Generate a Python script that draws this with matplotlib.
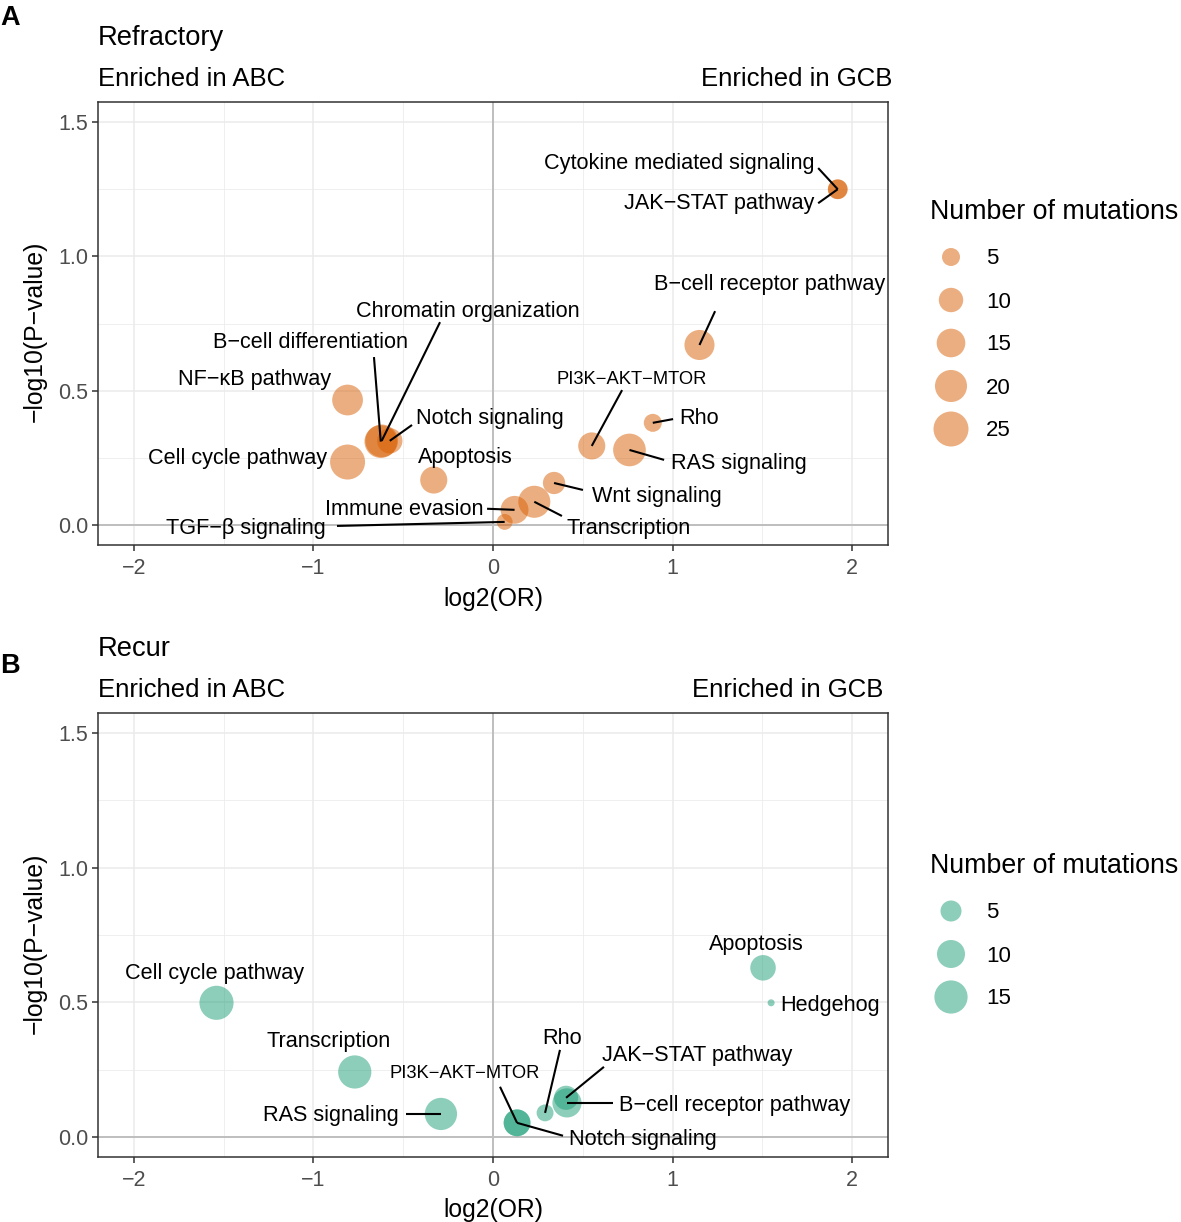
import numpy as np
import matplotlib
matplotlib.use("Agg")
import matplotlib.pyplot as plt
from matplotlib.ticker import FormatStrFormatter
from matplotlib.transforms import offset_copy

plt.rcParams['font.family'] = ['Liberation Sans', 'DejaVu Sans']

W, H, DPI = 1181, 1222, 100

# ---------------- data: panel A (Refractory) ----------------
refr_pathway = ["Cytokine mediated signaling", "JAK−STAT pathway", "B−cell receptor pathway",
                "Chromatin organization", "B−cell differentiation", "NF−κB pathway", "Notch signaling",
                "PI3K−AKT−MTOR", "Rho", "Cell cycle pathway", "Apoptosis", "RAS signaling",
                "Wnt signaling", "Immune evasion", "Transcription", "TGF−β signaling"]
refr_log2or = [1.92, 1.92, 1.15, -0.62, -0.625, -0.81, -0.575, 0.55, 0.89, -0.81, -0.33, 0.76,
               0.34, 0.12, 0.23, 0.065]
refr_logp = [1.25, 1.25, 0.67, 0.313, 0.31, 0.465, 0.313, 0.294, 0.38, 0.234, 0.167, 0.279,
             0.156, 0.056, 0.086, 0.011]
refr_n = [6, 6, 17, 21, 21, 18, 11, 13, 5, 25, 13, 21, 8, 14, 20, 4]
refr_breaks = [5, 10, 15, 20, 25]

# ---------------- data: panel B (Recur) ----------------
recur_pathway = ["Cell cycle pathway", "Transcription", "RAS signaling", "PI3K−AKT−MTOR",
                 "Notch signaling", "Rho", "JAK−STAT pathway", "B−cell receptor pathway",
                 "Apoptosis", "Hedgehog"]
recur_log2or = [-1.54, -0.77, -0.29, 0.134, 0.134, 0.29, 0.407, 0.412, 1.504, 1.549]
recur_logp = [0.498, 0.241, 0.085, 0.052, 0.052, 0.089, 0.145, 0.126, 0.628, 0.498]
recur_n = [16, 15, 14, 9, 9, 3, 7, 11, 8, 1]
recur_breaks = [5, 10, 15]

# ---------------- label layout (text x, text y, segment end x, segment end y) ----------------
layout_A = {
    "Cytokine mediated signaling": (1.039, 1.355, 1.811, 1.329),
    "JAK−STAT pathway": (1.262, 1.206, 1.811, 1.198),
    "B−cell receptor pathway": (1.538, 0.904, 1.237, 0.796),
    "Chromatin organization": (-0.142, 0.804, -0.295, 0.755),
    "B−cell differentiation": (-1.019, 0.688, -0.663, 0.625),
    "NF−κB pathway": (-1.329, 0.551, None, None),
    "Notch signaling": (-0.019, 0.406, -0.451, 0.372),
    "PI3K−AKT−MTOR": (0.772, 0.551, 0.719, 0.502),
    "Rho": (1.148, 0.406, 1.003, 0.394),
    "Cell cycle pathway": (-1.421, 0.257, None, None),
    "Apoptosis": (-0.156, 0.261, None, None),
    "RAS signaling": (1.368, 0.238, 0.953, 0.242),
    "Wnt signaling": (0.914, 0.115, 0.501, 0.130),
    "Immune evasion": (-0.493, 0.067, -0.033, 0.060),
    "Transcription": (0.755, -0.004, 0.384, 0.033),
    "TGF−β signaling": (-1.376, -0.004, -0.869, -0.004),
}
layout_B = {
    "Cell cycle pathway": (-1.549, 0.616, None, None),
    "Transcription": (-0.914, 0.364, None, None),
    "RAS signaling": (-0.905, 0.089, -0.485, 0.085),
    "PI3K−AKT−MTOR": (-0.159, 0.245, 0.039, 0.186),
    "Notch signaling": (0.836, 0.0, 0.390, 0.004),
    "Rho": (0.387, 0.375, 0.373, 0.323),
    "JAK−STAT pathway": (1.136, 0.312, 0.618, 0.260),
    "B−cell receptor pathway": (1.343, 0.126, 0.669, 0.126),
    "Apoptosis": (1.468, 0.724, None, None),
    "Hedgehog": (1.877, 0.498, None, None),
}
SMALL_LABELS = {"PI3K−AKT−MTOR"}

ORANGE = '#D95F02'
TEAL = '#1B9E77'
SIZE_A = dict(d0=10.7, k=5.18, nmin=3)
SIZE_B = dict(d0=7.0, k=7.0, nmin=1)


def marker_area(n, d0, k, nmin):
    d = d0 + k * np.sqrt(np.clip(np.asarray(n, float) - nmin, 0, None))
    return (d * 72.0 / DPI) ** 2


def rect(l, t, r, b):
    return [l / W, 1 - b / H, (r - l) / W, (b - t) / H]


fig = plt.figure(figsize=(W / DPI, H / DPI), dpi=DPI)
fig.patch.set_facecolor('white')


def draw_panel(ax, names, xs, ys, ns, color, size, layout):
    ax.set_xlim(-2.2, 2.2)
    ax.set_ylim(-0.075, 1.575)
    ax.set_xticks([-2, -1, 0, 1, 2])
    ax.set_yticks([0, 0.5, 1.0, 1.5])
    ax.set_xticks([-1.5, -0.5, 0.5, 1.5], minor=True)
    ax.set_yticks([0.25, 0.75, 1.25], minor=True)
    ax.yaxis.set_major_formatter(FormatStrFormatter('%.1f'))
    ax.grid(which='major', color='#EBEBEB', lw=1.1)
    ax.grid(which='minor', color='#EBEBEB', lw=0.55)
    ax.set_axisbelow(True)
    ax.tick_params(which='minor', length=0)
    ax.tick_params(which='major', length=4.3, width=1.1, color='#333333',
                   labelsize=15.5, labelcolor='#4D4D4D', pad=2.5)
    ax.tick_params(axis='x', which='major', pad=5.3)
    for sp in ax.spines.values():
        sp.set_color('#333333')
        sp.set_linewidth(1.1)
    ax.axhline(0, color='#BEBEBE', lw=1.4, zorder=1)
    ax.axvline(0, color='#BEBEBE', lw=1.4, zorder=1)
    ax.scatter(xs, ys, s=marker_area(ns, **size), c=color, alpha=0.5,
               linewidths=0, zorder=3)
    text_tr = offset_copy(ax.transData, fig=fig, x=0, y=-2.5, units='dots')
    for name, x, y in zip(names, xs, ys):
        tx, ty, sx, sy = layout[name]
        if sx is not None:
            ax.plot([x, sx], [y, sy], color='black', lw=1.5, zorder=4,
                    solid_capstyle='butt')
        ax.text(tx, ty, name, ha='center', va='center', color='black', transform=text_tr,
                fontsize=13.2 if name in SMALL_LABELS else 15.6, zorder=5)


axA = fig.add_axes(rect(98, 102, 888, 545))
axB = fig.add_axes(rect(98, 713, 888, 1157))
draw_panel(axA, refr_pathway, refr_log2or, refr_logp, refr_n, ORANGE, SIZE_A, layout_A)
draw_panel(axB, recur_pathway, recur_log2or, recur_logp, recur_n, TEAL, SIZE_B, layout_B)

# overlay in pixel coordinates for titles and legends
ov = fig.add_axes([0, 0, 1, 1], zorder=-1)
ov.set_xlim(0, W)
ov.set_ylim(H, 0)
ov.axis('off')
ov.patch.set_alpha(0)

for dy, letter, letter_y, title, gcb_right in [(0, 'A', 25, 'Refractory', 892),
                                               (611, 'B', 673, 'Recur', 883)]:
    ov.text(0, letter_y, letter, fontsize=19.5, fontweight='bold', ha='left', va='baseline')
    ov.text(98, 45 + dy, title, fontsize=19.7, ha='left', va='baseline')
    ov.text(98, 86 + dy, 'Enriched in ABC', fontsize=18.5, ha='left', va='baseline')
    ov.text(gcb_right, 86 + dy, 'Enriched in GCB', fontsize=18.5, ha='right', va='baseline')

for yc in [(102 + 545) / 2 + 8, (713 + 1157) / 2 + 8]:
    ov.text(35, yc, '−log10(P−value)', fontsize=17.8, rotation=90, ha='center', va='center')
ov.text(493, 599, 'log2(OR)', fontsize=17.8, ha='center', va='center')
ov.text(493, 1210, 'log2(OR)', fontsize=17.8, ha='center', va='center')

# legends
lax = fig.add_axes([0, 0, 1, 1], zorder=2)
lax.set_xlim(0, W)
lax.set_ylim(H, 0)
lax.axis('off')
lax.patch.set_alpha(0)
for breaks, color, size, title_y, key_y0 in [(refr_breaks, ORANGE, SIZE_A, 219, 257),
                                             (recur_breaks, TEAL, SIZE_B, 873, 911)]:
    lax.text(930, title_y, 'Number of mutations', fontsize=19.3, ha='left', va='baseline')
    ky = key_y0 + 43 * np.arange(len(breaks))
    lax.scatter(np.full(len(breaks), 951), ky, s=marker_area(breaks, **size), c=color,
                alpha=0.5, linewidths=0)
    for b, y in zip(breaks, ky):
        lax.text(986, y + 2, str(b), fontsize=16, ha='left', va='center')

fig.savefig('out.png', dpi=DPI)
